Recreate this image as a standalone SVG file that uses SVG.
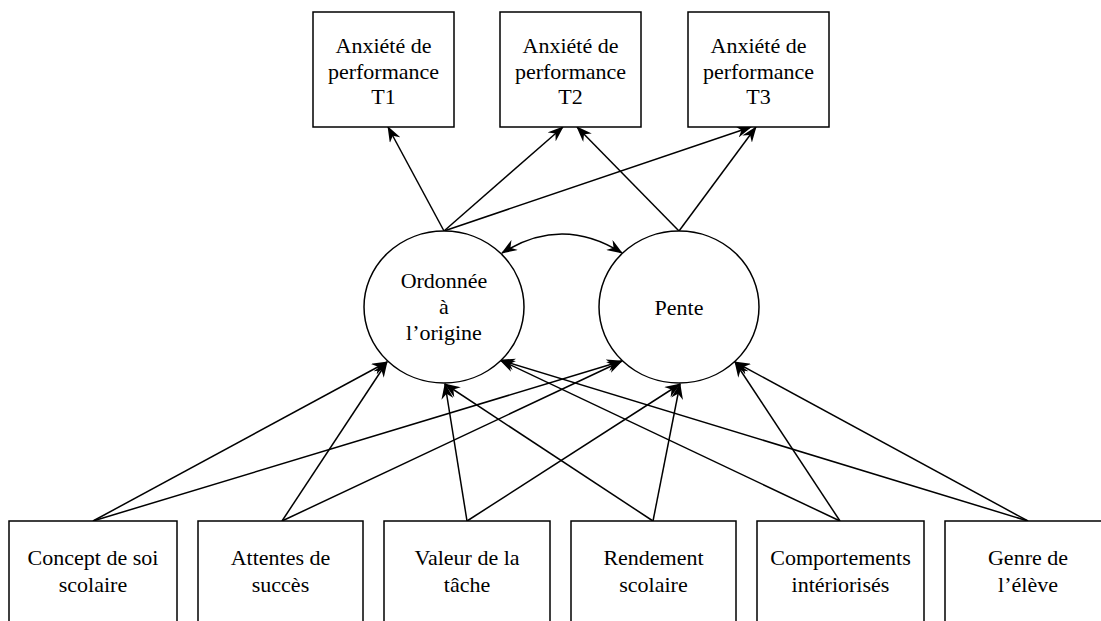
<svg xmlns="http://www.w3.org/2000/svg" width="1101" height="621" viewBox="0 0 1101 621">
  <style>
    .box { fill: #fff; stroke: #000; stroke-width: 1.5; }
    .lat { fill: #fff; stroke: #000; stroke-width: 1.5; }
    text { font-family: 'Liberation Serif', 'Times New Roman', Times, 'DejaVu Serif', serif; font-size: 22px; fill: #000; text-anchor: middle; }
    .edge { fill: none; stroke: #000; stroke-width: 1.5; marker-end: url(#arrow); }
    .cov { fill: none; stroke: #000; stroke-width: 1.5; marker-start: url(#arrowStart); marker-end: url(#arrow); }
  </style>
  <defs>
    <marker id="arrow" viewBox="0 0 16 12" refX="15" refY="6" markerWidth="16" markerHeight="12" markerUnits="userSpaceOnUse" orient="auto">
      <path d="M0,0 L16,6 L0,12 L5,6 z" fill="#000"/>
    </marker>
    <marker id="arrowStart" viewBox="0 0 16 12" refX="1" refY="6" markerWidth="16" markerHeight="12" markerUnits="userSpaceOnUse" orient="auto">
      <path d="M16,0 L0,6 L16,12 L11,6 z" fill="#000"/>
    </marker>
  </defs>

  <rect width="1101" height="621" fill="#fff"/>

  <!-- connectors -->
  <g id="connectors">
    <!-- latent factors to repeated measures -->
    <line class="edge" x1="444" y1="231" x2="388" y2="127"/>
    <line class="edge" x1="444" y1="231" x2="563" y2="127"/>
    <line class="edge" x1="444" y1="231" x2="751" y2="127"/>
    <line class="edge" x1="679" y1="231" x2="577" y2="127"/>
    <line class="edge" x1="679" y1="231" x2="756" y2="127"/>
    <!-- covariance between intercept and slope -->
    <path class="cov" d="M502,253 Q562,215 622,253"/>
    <!-- predictors to intercept -->
    <line class="edge" x1="93" y1="521" x2="387" y2="362"/>
    <line class="edge" x1="282" y1="521" x2="387" y2="362"/>
    <line class="edge" x1="467" y1="521" x2="445" y2="384"/>
    <line class="edge" x1="653" y1="521" x2="445" y2="384"/>
    <line class="edge" x1="840" y1="521" x2="500" y2="360"/>
    <line class="edge" x1="1028" y1="521" x2="500" y2="360"/>
    <!-- predictors to slope -->
    <line class="edge" x1="93" y1="521" x2="622" y2="361"/>
    <line class="edge" x1="282" y1="521" x2="622" y2="361"/>
    <line class="edge" x1="467" y1="521" x2="680" y2="384"/>
    <line class="edge" x1="653" y1="521" x2="680" y2="384"/>
    <line class="edge" x1="840" y1="521" x2="735" y2="362"/>
    <line class="edge" x1="1028" y1="521" x2="735" y2="362"/>
  </g>

  <!-- repeated measures -->
  <g id="t1">
    <rect class="box" x="313" y="12" width="141" height="115"/>
    <text x="383.5" y="53">Anxiété de</text>
    <text x="383.5" y="78.5">performance</text>
    <text x="383.5" y="104">T1</text>
  </g>
  <g id="t2">
    <rect class="box" x="500" y="12" width="141" height="115"/>
    <text x="570.5" y="53">Anxiété de</text>
    <text x="570.5" y="78.5">performance</text>
    <text x="570.5" y="104">T2</text>
  </g>
  <g id="t3">
    <rect class="box" x="688" y="12" width="141" height="115"/>
    <text x="758.5" y="53">Anxiété de</text>
    <text x="758.5" y="78.5">performance</text>
    <text x="758.5" y="104">T3</text>
  </g>

  <!-- latent growth factors -->
  <g id="intercept">
    <ellipse class="lat" cx="444" cy="307" rx="80" ry="76"/>
    <text x="444" y="288">Ordonnée</text>
    <text x="444" y="314">à</text>
    <text x="444" y="340">l’origine</text>
  </g>
  <g id="slope">
    <ellipse class="lat" cx="679" cy="307" rx="80" ry="76"/>
    <text x="679" y="315">Pente</text>
  </g>

  <!-- predictors -->
  <g id="concept">
    <rect class="box" x="9" y="521" width="168" height="120"/>
    <text x="93" y="565">Concept de soi</text>
    <text x="93" y="592">scolaire</text>
  </g>
  <g id="attentes">
    <rect class="box" x="198" y="521" width="165" height="120"/>
    <text x="280.5" y="565">Attentes de</text>
    <text x="280.5" y="592">succès</text>
  </g>
  <g id="valeur">
    <rect class="box" x="384" y="521" width="166" height="120"/>
    <text x="467" y="565">Valeur de la</text>
    <text x="467" y="592">tâche</text>
  </g>
  <g id="rendement">
    <rect class="box" x="571" y="521" width="165" height="120"/>
    <text x="653.5" y="565">Rendement</text>
    <text x="653.5" y="592">scolaire</text>
  </g>
  <g id="comportements">
    <rect class="box" x="757" y="521" width="167" height="120"/>
    <text x="840.5" y="565">Comportements</text>
    <text x="840.5" y="592">intériorisés</text>
  </g>
  <g id="genre">
    <rect class="box" x="945" y="521" width="167" height="120"/>
    <text x="1028" y="565">Genre de</text>
    <text x="1028" y="592">l’élève</text>
  </g>
</svg>
